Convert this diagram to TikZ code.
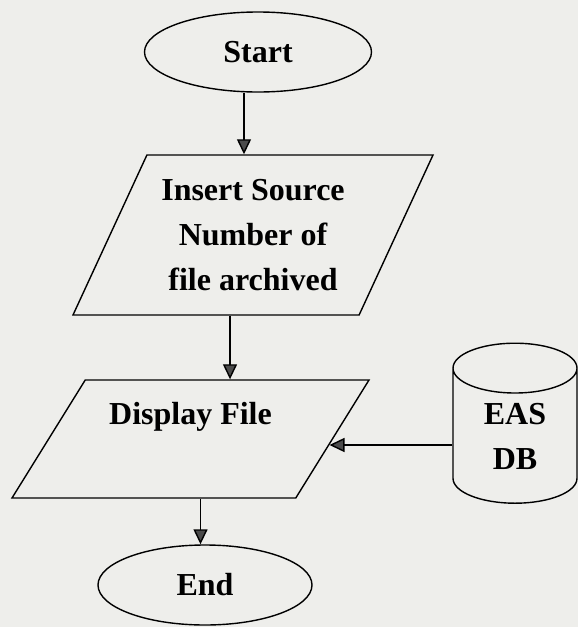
\documentclass[tikz,border=0pt]{standalone}
\usepackage{fontspec}
\setmainfont{Liberation Serif}
\usetikzlibrary{shapes.geometric,arrows.meta,calc}
\definecolor{paper}{RGB}{238,238,235}
\definecolor{tipgray}{RGB}{75,75,75}
\begin{document}
\begin{tikzpicture}[x=1pt,y=-1pt,line width=1.4pt,
    txt/.style={font=\fontsize{32}{45}\selectfont\bfseries,align=center},
    term/.style={draw,ellipse,txt,inner sep=0pt},
    io/.style={draw,trapezium,trapezium stretches body,txt,inner xsep=0pt},
    arr/.style={-{Triangle[length=15pt,width=14pt,fill=tipgray]}}]
            \fill[paper] (0,0) rectangle (578,627);
            \useasboundingbox (0,0) rectangle (578,627);

            \node[term,minimum width=227,minimum height=80] (start) at (258,52) {Start};
            \node[io,trapezium left angle=65,trapezium right angle=115,inner ysep=23.5pt,minimum width=360,minimum height=160] (src) at (253,235) {Insert Source\\ Number of\\ file archived};
            \node[io,trapezium left angle=58,trapezium right angle=122,inner ysep=21.5pt,minimum width=357,minimum height=118,text depth=52pt] (disp) at (190.5,439) {Display File};
            \node[draw,cylinder,shape border rotate=90,shape aspect=0.8,txt,minimum width=124,minimum height=160,inner sep=0pt] (db) at (515,436) {EAS\\ DB};
            \node[term,minimum width=214,minimum height=80] (fin) at (205,585) {End};
            \coordinate (dbin) at ([yshift=-9pt]db.west);
            \coordinate (dispin) at ($(disp.bottom right corner)!0.45!(disp.top right corner)$);

            \draw[arr] ([xshift=-14pt]start.south) -- ([xshift=-14pt]start.south |- src.north);
            \draw[arr] ([xshift=-23pt]src.south) -- ([xshift=-23pt]src.south |- disp.north);
            \draw[arr] ([xshift=10pt]disp.south) -- ([xshift=10pt]disp.south |- fin.north);
            \draw[arr] (dbin) -- (dbin -| dispin);
        \end{tikzpicture}
\end{document}
